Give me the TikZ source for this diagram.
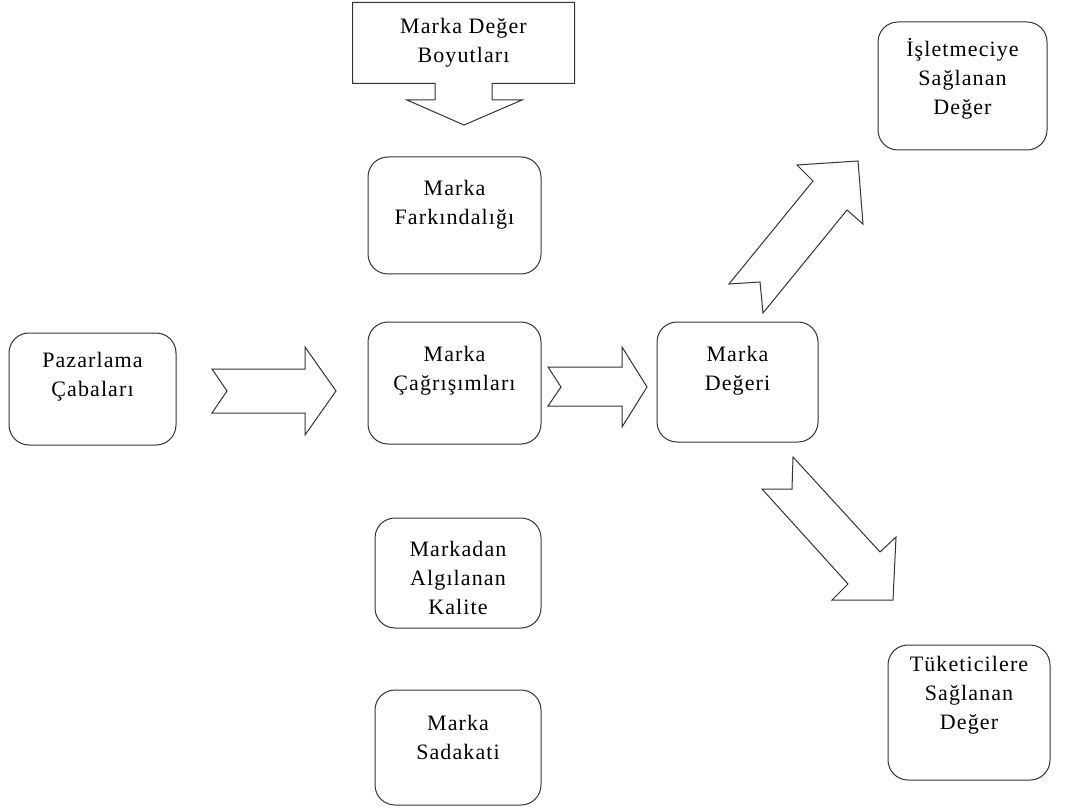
\documentclass[tikz,border=0pt]{standalone}
\usepackage{fontspec}
\setmainfont{Liberation Serif}[LetterSpace=5]
\usepackage{tikz}
\usetikzlibrary{positioning,calc}

\begin{document}
\begin{tikzpicture}[x=1pt, y=-1pt, line width=1pt, line join=miter,
    font=\fontsize{22}{29}\selectfont]
        \tikzstyle{kutu}=[draw=black!80, fill=white, rounded corners=20pt, inner sep=0pt, align=center]
        \tikzstyle{blok}=[draw=black!80, fill=white]
        \tikzstyle{every label}=[align=center, font=\fontsize{22}{29}\selectfont]
        \useasboundingbox (0,0) rectangle (1068,810);
        % ust kutu (cagri oku)
        \node[inner sep=0pt, align=center, minimum width=221pt, minimum height=80pt] (Boyut) at (463.5,43)
            {\fontsize{22}{33}\selectfont Marka Değer\\Boyutları};
        \draw[draw=black!80] (Boyut.north west) -- (Boyut.north east) -- (Boyut.south east)
            -- (Boyut.south -| 492,0) -- (492,100) -- (522,100) -- (464,125)
            -- (407,100) -- (435,100) -- (Boyut.south -| 435,0) -- (Boyut.south west) -- cycle;
        % kutular
        \node[kutu, minimum width=167pt, minimum height=112pt, label={[yshift=12pt]center:Pazarlama\\Çabaları}] (Pazar) at (92.5,389) {};
        \node[kutu, minimum width=173pt, minimum height=117pt, label={[yshift=11pt]center:Marka\\Farkındalığı}] (Fark) at (454.5,215.5) {};
        \node[kutu, minimum width=173pt, minimum height=122pt, label={[yshift=12pt]center:Marka\\Çağrışımları}] (Cagri) at (454.5,383) {};
        \node[kutu, minimum width=166pt, minimum height=110pt, label={[yshift=-5pt]center:Markadan\\Algılanan\\Kalite}] (Kalite) at (458,573) {};
        \node[kutu, minimum width=166pt, minimum height=115pt, label={[yshift=10pt]center:Marka\\Sadakati}] (Sadakat) at (458,747.5) {};
        \node[kutu, minimum width=161pt, minimum height=120pt, label={[yshift=11pt]center:Marka\\Değeri}] (Deger) at (737.5,382) {};
        \node[kutu, minimum width=169pt, minimum height=128pt, label={[yshift=7pt]center:İşletmeciye\\Sağlanan\\Değer}] (Isletme) at (962.5,86) {};
        \node[kutu, minimum width=162pt, minimum height=135pt, label={[yshift=17pt]center:Tüketicilere\\Sağlanan\\Değer}] (Tuketici) at (969,712.5) {};
        % blok oklar
        \draw[blok] (212,369) -- (305,369) -- (305,347) -- (336,391) -- (305,435)
            -- (305,413) -- (212,413) -- (227,391) -- cycle;
        \draw[blok] (548,367) -- (622,367) -- (622,347) -- (647,387) -- (622,427)
            -- (622,406) -- (548,406) -- (561,387) -- cycle;
        \draw[blok] (729,284) -- (813,181) -- (797,165) -- (858,161) -- (863,224)
            -- (847,210) -- (763,313) -- (760,282) -- cycle;
        \draw[blok] (793,457) -- (880,552) -- (896,537) -- (893,600) -- (832,600)
            -- (848,584) -- (762,489) -- (792,489) -- cycle;
\end{tikzpicture}
\end{document}
